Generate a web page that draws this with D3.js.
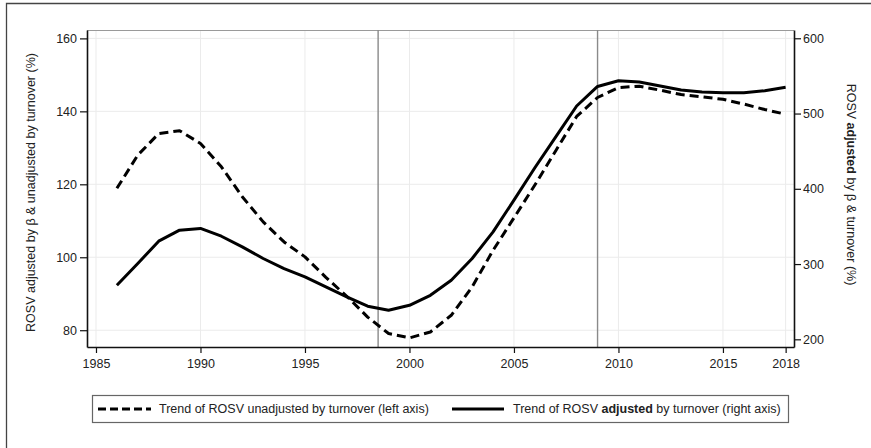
<!DOCTYPE html>
<html><head><meta charset="utf-8">
<script src="https://cdn.jsdelivr.net/npm/d3@7"></script>
<style>body{margin:0;background:#fff}svg{display:block;font-family:"Liberation Sans",Arial,sans-serif}</style>
</head><body>
<script>
const years = [1986,1987,1988,1989,1990,1991,1992,1993,1994,1995,1996,1997,1998,1999,2000,2001,2002,2003,2004,2005,2006,2007,2008,2009,2010,2011,2012,2013,2014,2015,2016,2017,2018];
const unadjusted = [118.9,128,133.9,134.7,131.2,124.8,116.6,109.7,104.2,100.1,94.5,89.3,83.6,79.1,77.9,79.5,84.1,91.9,101.9,110.8,119.8,129.2,138.6,143.8,146.5,146.9,145.8,144.6,144.0,143.3,142.0,140.5,139.2];
const adjusted = [271.8,300.7,330.4,345,347.3,337,322.8,307.4,294,283,269.6,256.5,244,238.6,245.2,258.5,278.5,307.4,342.7,385,428,469,510,536,543.5,541.9,536.6,531.3,528.6,527.6,527.6,530.3,534.8];
const xTicks = [1985,1990,1995,2000,2005,2010,2015,2018];
const leftTicks = [80,100,120,140,160];
const rightTicks = [200,300,400,500,600];
const refLines = [1998.5,2009];
const legendLabels = ["Trend of ROSV unadjusted by turnover (left axis)","Trend of ROSV adjusted by turnover (right axis)"];

const W=871,H=448;
const svg=d3.select("body").append("svg").attr("width",W).attr("height",H);
const L=87,R=794,T=30,B=347;
const x=d3.scaleLinear().domain([1984.57,2018.4]).range([L,R]);
const yL=d3.scaleLinear().domain([75.4,162.3]).range([B,T]);
const yR=d3.scaleLinear().domain([189.8,611]).range([B,T]);

// outer frame (left & top visible)
svg.append("path").attr("d",`M6.5,${H}V3.5H${W}`).attr("fill","none").attr("stroke","#444").attr("stroke-width",1.3);

// gridlines
const g=svg.append("g");
g.selectAll(".gx").data(xTicks).enter().append("line")
 .attr("x1",d=>x(d)).attr("x2",d=>x(d)).attr("y1",T).attr("y2",B)
 .attr("stroke","#ebebeb").attr("stroke-width",1);
g.selectAll(".gy").data(leftTicks).enter().append("line")
 .attr("x1",L).attr("x2",R).attr("y1",d=>yL(d)).attr("y2",d=>yL(d))
 .attr("stroke","#ebebeb").attr("stroke-width",1);

// top border
svg.append("line").attr("x1",L).attr("x2",R).attr("y1",T+0.5).attr("y2",T+0.5).attr("stroke","#9a9a9a").attr("stroke-width",1.2);

// reference lines
svg.selectAll(".ref").data(refLines).enter().append("line")
 .attr("x1",d=>x(d)).attr("x2",d=>x(d)).attr("y1",T).attr("y2",B)
 .attr("stroke","#8a8a8a").attr("stroke-width",1.4);

// axes
const fs="12.5px";
const ax=svg.append("g").attr("transform",`translate(0,${B})`).call(d3.axisBottom(x).tickValues(xTicks).tickFormat(d3.format("d")).tickSize(6).tickSizeOuter(0));
const al=svg.append("g").attr("transform",`translate(${L},0)`).call(d3.axisLeft(yL).tickValues(leftTicks).tickSize(7).tickSizeOuter(0));
const ar=svg.append("g").attr("transform",`translate(${R},0)`).call(d3.axisRight(yR).tickValues(rightTicks).tickSize(7).tickSizeOuter(0));
[ax,al,ar].forEach(a=>{a.selectAll("text").attr("font-size",fs).attr("fill","#222").style("font-family","Liberation Sans, Arial, sans-serif");
 a.select(".domain").attr("stroke","#111").attr("stroke-width",1.6);
 a.selectAll(".tick line").attr("stroke","#111").attr("stroke-width",1.2);});
ax.selectAll("text").attr("dy","0").attr("y",21);
al.selectAll("text").attr("x",-10);
ar.selectAll("text").attr("x",9);

// series
const lineL=d3.line().x((d,i)=>x(years[i])).y(d=>yL(d));
const lineR=d3.line().x((d,i)=>x(years[i])).y(d=>yR(d));
svg.append("path").datum(unadjusted).attr("d",lineL).attr("fill","none").attr("stroke","#000").attr("stroke-width",3).attr("stroke-dasharray","9,5").attr("stroke-linejoin","round");
svg.append("path").datum(adjusted).attr("d",lineR).attr("fill","none").attr("stroke","#000").attr("stroke-width",3).attr("stroke-linejoin","round");

// axis titles
svg.append("text").attr("transform",`translate(35,${(T+B)/2+4}) rotate(-90)`).attr("text-anchor","middle").attr("font-size",fs).attr("fill","#222")
 .text("ROSV adjusted by β & unadjusted by turnover (%)");
const rt=svg.append("text").attr("transform",`translate(847,${(T+B)/2-4}) rotate(90)`).attr("text-anchor","middle").attr("font-size",fs).attr("fill","#222");
rt.append("tspan").text("ROSV ");
rt.append("tspan").attr("font-weight","bold").text("adjusted");
rt.append("tspan").text(" by β & turnover (%)");

// legend
const lg=svg.append("g");
lg.append("rect").attr("x",92.5).attr("y",395.5).attr("width",696).attr("height",27).attr("fill","#fff").attr("stroke","#666").attr("stroke-width",1.2);
lg.append("line").attr("x1",98).attr("x2",151).attr("y1",409).attr("y2",409).attr("stroke","#000").attr("stroke-width",3).attr("stroke-dasharray","8,4");
lg.append("text").attr("x",159).attr("y",413).attr("font-size",fs).attr("fill","#222").text(legendLabels[0]);
lg.append("line").attr("x1",452).attr("x2",504).attr("y1",409).attr("y2",409).attr("stroke","#000").attr("stroke-width",3);
const t2=lg.append("text").attr("x",513).attr("y",413).attr("font-size",fs).attr("fill","#222");
const parts=legendLabels[1].split("adjusted");
t2.append("tspan").text(parts[0]);
t2.append("tspan").attr("font-weight","bold").text("adjusted");
t2.append("tspan").text(parts[1]);
</script>
</body></html>
